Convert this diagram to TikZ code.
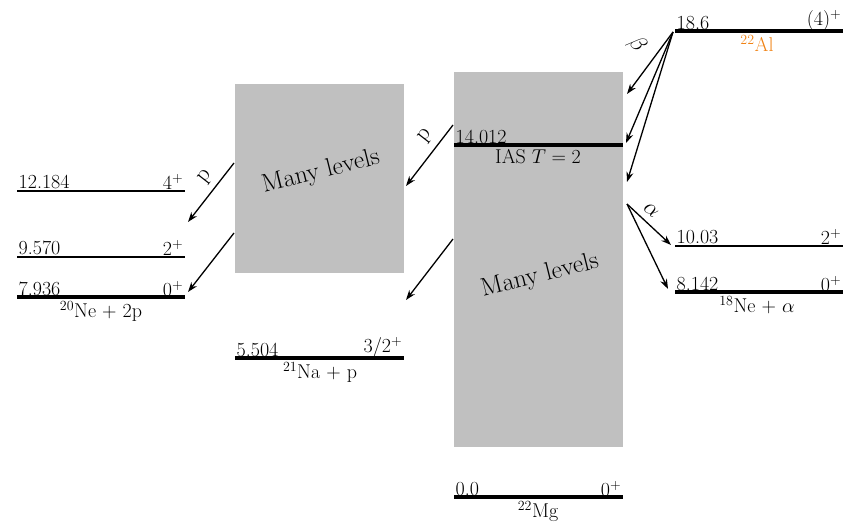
\documentclass[tikz,border=0pt]{standalone}
\usepackage{fix-cm}
\usepackage{fontspec}
\usetikzlibrary{arrows.meta}
\definecolor{boxgray}{RGB}{192,192,192}
\definecolor{alorange}{RGB}{240,130,20}
\newcommand\lblfont{\fontsize{20}{23}\selectfont}
\begin{document}
\lblfont
\begin{tikzpicture}[x=1pt,y=-1pt,
  every node/.style={font=\lblfont},
  thinlvl/.style={line width=2pt},
  thicklvl/.style={line width=4.5pt},
  en/.style={anchor=south west, inner sep=1.5pt},
  jp/.style={anchor=south east, inner sep=1.5pt},
  nucl/.style={anchor=north, inner sep=1pt},
  graybox/.style={fill=boxgray, draw=none},
  arr/.style={-{Stealth[length=10pt,width=7pt]}, line width=1.3pt},
  many/.style={font=\fontsize{25.5}{28}\selectfont, rotate=14},
  declab/.style={font=\fontsize{23}{25}\selectfont, inner sep=0pt}]
\useasboundingbox (0,0) rectangle (843,524);

% gray boxes
\fill[graybox] (235,84) rectangle (404,273);
\fill[graybox] (454,72) rectangle (623,447);
\node[many] (ml1) at (321,172) {Many levels};
\node[many] (ml2) at (540,276) {Many levels};

% 20Ne levels
\draw[thinlvl] (17,191) coordinate (ne1l) -- (185,191) coordinate (ne1r);
\node[en] (ne1e) at (ne1l) {12.184};
\node[jp] (ne1j) at (ne1r) {$4^+$};
\draw[thinlvl] (17,257) coordinate (ne2l) -- (185,257) coordinate (ne2r);
\node[en] (ne2e) at (ne2l) {9.570};
\node[jp] (ne2j) at (ne2r) {$2^+$};
\draw[thicklvl] (17,297) coordinate (ne3l) -- (185,297) coordinate (ne3r);
\node[en, yshift=-1pt] (ne3e) at (ne3l) {7.936};
\node[jp, yshift=-1pt] (ne3j) at (ne3r) {$0^+$};
\node[nucl] (nenuc) at (101,300) {$^{20}$Ne + 2p};

% 21Na
\draw[thicklvl] (235,358) coordinate (nal) -- (404,358) coordinate (nar);
\node[en, yshift=-1pt] (nae) at (nal) {5.504};
\node[jp, yshift=-1pt] (naj) at (nar) {3/2$^+$};
\node[nucl] (nanuc) at (320,361) {$^{21}$Na + p};

% 22Mg
\draw[thicklvl] (454,145) coordinate (iasl) -- (623,145) coordinate (iasr);
\node[en, yshift=-1pt] (iase) at (iasl) {14.012};
\node[anchor=north, inner sep=1pt] (iasn) at (538,148) {IAS $T=2$};
\draw[thicklvl] (454,497) coordinate (mgl) -- (623,497) coordinate (mgr);
\node[en, yshift=-1pt] (mge) at (mgl) {0.0};
\node[jp, yshift=-1pt] (mgj) at (mgr) {$0^+$};
\node[nucl] (mgnuc) at (538,500) {$^{22}$Mg};

% 22Al
\draw[thicklvl] (675,31) coordinate (all) -- (843,31) coordinate (alr);
\node[en, yshift=-1pt] (ale) at (all) {18.6};
\node[jp, yshift=-1pt] (alj) at (alr) {(4)$^+$};
\node[nucl, text=alorange] (alnuc) at (757,34) {$^{22}$Al};

% 18Ne
\draw[thinlvl] (675,246) coordinate (ne18al) -- (843,246) coordinate (ne18ar);
\node[en] (ne18ae) at (ne18al) {10.03};
\node[jp] (ne18aj) at (ne18ar) {$2^+$};
\draw[thicklvl] (675,292) coordinate (ne18bl) -- (843,292) coordinate (ne18br);
\node[en, yshift=-1pt] (ne18be) at (ne18bl) {8.142};
\node[jp, yshift=-1pt] (ne18bj) at (ne18br) {$0^+$};
\node[nucl] (ne18nuc) at (757,295) {$^{18}$Ne + $\alpha$};

% beta arrows
\coordinate (bs) at (673,32);
\coordinate (b1) at (627,94);
\coordinate (b2) at (626,143);
\coordinate (b3) at (627,182);
\draw[arr] (bs) -- (b1);
\draw[arr] (bs) -- (b2);
\draw[arr] (bs) -- (b3);
\node[declab, rotate=-53] (beta) at (637,45) {$\beta$};

% alpha arrows
\coordinate (as) at (627,204);
\coordinate (a1) at (671,245);
\coordinate (a2) at (668,289);
\draw[arr] (as) -- (a1);
\draw[arr] (as) -- (a2);
\node[declab, rotate=-40] (alpha) at (651,210) {$\alpha$};

% proton arrows from 22Mg
\coordinate (p1s) at (453,125);
\coordinate (p1e) at (406,186);
\coordinate (p2s) at (453,239);
\coordinate (p2e) at (406,300);
\draw[arr] (p1s) -- (p1e);
\draw[arr] (p2s) -- (p2e);
\node[declab, rotate=52] (pl1) at (426,136) {p};

% proton arrows from 21Na
\coordinate (p3s) at (234,163);
\coordinate (p3e) at (188,222);
\coordinate (p4s) at (234,233);
\coordinate (p4e) at (188,292);
\draw[arr] (p3s) -- (p3e);
\draw[arr] (p4s) -- (p4e);
\node[declab, rotate=52] (pl2) at (206,177) {p};
\end{tikzpicture}
\end{document}
